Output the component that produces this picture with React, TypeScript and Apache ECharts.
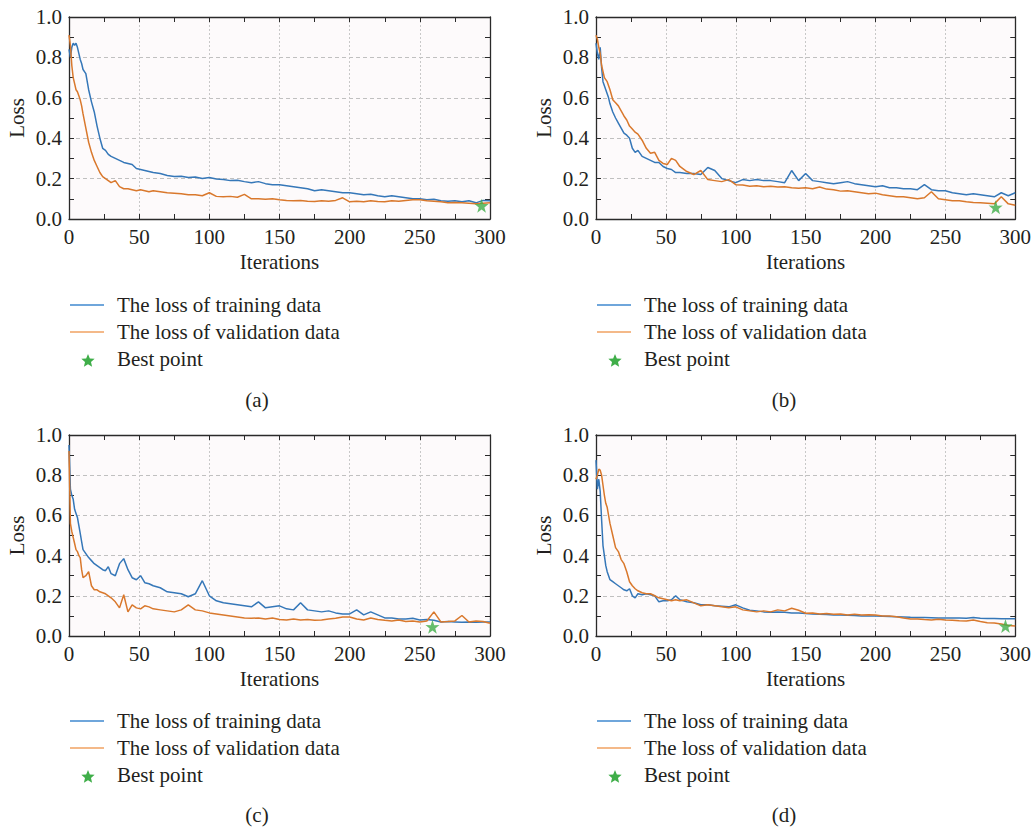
import React, { useEffect, useRef } from "react";
import * as echarts from "echarts";

const ITER = [
  0, 1, 2, 3, 4, 5, 6, 7, 8, 9, 10,
  12, 14, 16, 18, 20, 22, 24, 26, 28, 30,
  33, 36, 39, 42, 45, 48, 51, 54, 57, 60,
  65, 70, 75, 80, 85, 90, 95, 100,
  105, 110, 115, 120, 125, 130, 135, 140, 145, 150,
  155, 160, 165, 170, 175, 180, 185, 190, 195, 200,
  205, 210, 215, 220, 225, 230, 235, 240, 245, 250,
  255, 260, 265, 270, 275, 280, 285, 290, 295, 300,
];

const TRAIN_A = [
  0.84, 0.80, 0.85, 0.87, 0.86, 0.87, 0.85, 0.82, 0.79, 0.77, 0.74,
  0.72, 0.64, 0.58, 0.53, 0.46, 0.40, 0.35, 0.34, 0.32, 0.31,
  0.30, 0.29, 0.28, 0.275, 0.27, 0.25, 0.245, 0.24, 0.235, 0.23,
  0.225, 0.215, 0.21, 0.212, 0.205, 0.208, 0.20, 0.205,
  0.198, 0.195, 0.19, 0.192, 0.185, 0.18, 0.185, 0.175, 0.17, 0.17,
  0.165, 0.16, 0.155, 0.15, 0.14, 0.145, 0.14, 0.135, 0.13, 0.13,
  0.125, 0.12, 0.122, 0.115, 0.11, 0.115, 0.11, 0.105, 0.10, 0.10,
  0.095, 0.098, 0.09, 0.088, 0.09, 0.085, 0.09, 0.08, 0.092, 0.09,
];
const VAL_A = [
  0.91, 0.86, 0.76, 0.70, 0.67, 0.64, 0.63, 0.61, 0.59, 0.56, 0.52,
  0.45, 0.38, 0.33, 0.29, 0.26, 0.23, 0.21, 0.20, 0.19, 0.18,
  0.19, 0.16, 0.15, 0.15, 0.145, 0.14, 0.145, 0.14, 0.135, 0.14,
  0.135, 0.13, 0.128, 0.125, 0.12, 0.12, 0.115, 0.13,
  0.112, 0.11, 0.112, 0.108, 0.122, 0.10, 0.10, 0.098, 0.10, 0.095,
  0.092, 0.09, 0.092, 0.088, 0.087, 0.09, 0.088, 0.092, 0.105, 0.085,
  0.088, 0.085, 0.09, 0.087, 0.085, 0.09, 0.088, 0.092, 0.095, 0.095,
  0.09, 0.088, 0.085, 0.08, 0.082, 0.08, 0.078, 0.075, 0.078, 0.08,
];
const TRAIN_B = [
  0.87, 0.82, 0.79, 0.85, 0.75, 0.68, 0.66, 0.64, 0.62, 0.60, 0.57,
  0.53, 0.50, 0.475, 0.45, 0.425, 0.415, 0.40, 0.35, 0.33, 0.34,
  0.31, 0.30, 0.29, 0.28, 0.28, 0.26, 0.25, 0.245, 0.23, 0.23,
  0.225, 0.225, 0.22, 0.255, 0.24, 0.20, 0.19, 0.18,
  0.195, 0.19, 0.195, 0.19, 0.19, 0.185, 0.18, 0.24, 0.19, 0.225,
  0.19, 0.185, 0.18, 0.175, 0.18, 0.185, 0.175, 0.17, 0.165, 0.16,
  0.165, 0.155, 0.155, 0.15, 0.15, 0.145, 0.17, 0.145, 0.14, 0.14,
  0.13, 0.125, 0.12, 0.125, 0.12, 0.115, 0.11, 0.13, 0.115, 0.13,
];
const VAL_B = [
  0.91, 0.89, 0.85, 0.82, 0.76, 0.73, 0.70, 0.69, 0.68, 0.66, 0.64,
  0.59, 0.575, 0.56, 0.535, 0.51, 0.49, 0.46, 0.445, 0.43, 0.42,
  0.39, 0.35, 0.325, 0.33, 0.29, 0.275, 0.27, 0.30, 0.29, 0.26,
  0.235, 0.22, 0.24, 0.195, 0.19, 0.185, 0.195, 0.17,
  0.168, 0.162, 0.165, 0.16, 0.162, 0.158, 0.16, 0.155, 0.152, 0.155,
  0.15, 0.158, 0.148, 0.145, 0.138, 0.14, 0.135, 0.13, 0.125, 0.128,
  0.12, 0.115, 0.11, 0.11, 0.105, 0.10, 0.105, 0.135, 0.10, 0.095,
  0.09, 0.09, 0.085, 0.082, 0.08, 0.078, 0.075, 0.11, 0.075, 0.068,
];
const TRAIN_C = [
  0.95, 0.73, 0.70, 0.68, 0.63, 0.61, 0.59, 0.55, 0.51, 0.47, 0.43,
  0.41, 0.39, 0.375, 0.36, 0.35, 0.34, 0.33, 0.325, 0.345, 0.31,
  0.30, 0.36, 0.385, 0.33, 0.29, 0.28, 0.30, 0.265, 0.26, 0.25,
  0.24, 0.22, 0.215, 0.21, 0.195, 0.21, 0.275, 0.20,
  0.175, 0.165, 0.16, 0.155, 0.15, 0.145, 0.17, 0.14, 0.145, 0.15,
  0.135, 0.13, 0.165, 0.13, 0.125, 0.12, 0.125, 0.115, 0.11, 0.11,
  0.13, 0.105, 0.12, 0.105, 0.09, 0.09, 0.085, 0.085, 0.088, 0.08,
  0.082, 0.078, 0.07, 0.072, 0.07, 0.068, 0.07, 0.068, 0.07, 0.07,
];
const VAL_C = [
  0.92, 0.56, 0.52, 0.49, 0.46, 0.43, 0.42, 0.40, 0.39, 0.33, 0.29,
  0.30, 0.32, 0.25, 0.23, 0.23, 0.22, 0.215, 0.21, 0.20, 0.19,
  0.17, 0.14, 0.205, 0.12, 0.155, 0.14, 0.135, 0.15, 0.145, 0.135,
  0.13, 0.125, 0.12, 0.13, 0.155, 0.13, 0.125, 0.115,
  0.11, 0.105, 0.10, 0.095, 0.09, 0.088, 0.09, 0.085, 0.09, 0.082,
  0.08, 0.085, 0.08, 0.082, 0.078, 0.08, 0.085, 0.088, 0.095, 0.095,
  0.085, 0.08, 0.09, 0.082, 0.078, 0.075, 0.08, 0.072, 0.075, 0.07,
  0.075, 0.12, 0.07, 0.072, 0.075, 0.102, 0.07, 0.075, 0.072, 0.063,
];
const TRAIN_D = [
  0.875, 0.73, 0.78, 0.72, 0.58, 0.45, 0.40, 0.35, 0.32, 0.30, 0.28,
  0.27, 0.26, 0.25, 0.24, 0.23, 0.225, 0.235, 0.20, 0.19, 0.21,
  0.205, 0.21, 0.205, 0.20, 0.17, 0.175, 0.175, 0.18, 0.20, 0.18,
  0.17, 0.165, 0.155, 0.155, 0.15, 0.148, 0.145, 0.155,
  0.14, 0.128, 0.125, 0.12, 0.118, 0.12, 0.118, 0.115, 0.115, 0.112,
  0.11, 0.108, 0.107, 0.105, 0.104, 0.103, 0.102, 0.10, 0.10, 0.099,
  0.098, 0.097, 0.096, 0.095, 0.093, 0.092, 0.092, 0.091, 0.09, 0.09,
  0.089, 0.089, 0.088, 0.092, 0.088, 0.087, 0.087, 0.086, 0.086, 0.086,
];
const VAL_D = [
  0.78, 0.80, 0.83, 0.825, 0.80, 0.75, 0.70, 0.66, 0.64, 0.60, 0.56,
  0.50, 0.44, 0.42, 0.38, 0.36, 0.32, 0.27, 0.25, 0.235, 0.225,
  0.215, 0.21, 0.21, 0.20, 0.19, 0.185, 0.18, 0.175, 0.18, 0.175,
  0.18, 0.165, 0.15, 0.155, 0.15, 0.145, 0.14, 0.145,
  0.13, 0.125, 0.12, 0.125, 0.12, 0.13, 0.125, 0.138, 0.128, 0.113,
  0.115, 0.11, 0.112, 0.108, 0.11, 0.105, 0.108, 0.105, 0.106, 0.104,
  0.10, 0.10, 0.096, 0.09, 0.085, 0.085, 0.082, 0.08, 0.083, 0.08,
  0.078, 0.076, 0.075, 0.08, 0.072, 0.066, 0.065, 0.06, 0.052, 0.05,
];

// Best points [iteration, loss]
const BEST_A = [294, 0.066];
const BEST_B = [286, 0.058];
const BEST_C = [259, 0.046];
const BEST_D = [293, 0.05];

const PANEL_LABELS = ["(a)", "(b)", "(c)", "(d)"];
const LEGEND_LABELS = ["The loss of training data", "The loss of validation data", "Best point"];
const X_NAME = "Iterations";
const Y_NAME = "Loss";
const X_MIN = 0, X_MAX = 300, X_STEP = 50;
const Y_MIN = 0, Y_MAX = 1, Y_STEP = 0.2;

const PANELS = [
  { train: TRAIN_A, val: VAL_A, best: BEST_A },
  { train: TRAIN_B, val: VAL_B, best: BEST_B },
  { train: TRAIN_C, val: VAL_C, best: BEST_C },
  { train: TRAIN_D, val: VAL_D, best: BEST_D },
];

const FONT = '"Liberation Serif", "Times New Roman", serif';
const FS = 21;
const TEXT = "#231f20";
const AXIS = "#2a2a2a";
const BLUE = "#3577b8";
const ORANGE = "#d9782c";
const LEG_BLUE = "#3f88cf";
const LEG_ORANGE = "#f0a262";
const GREEN = "#3fae49";
const BG = "#fdfafb";

const GRIDS = [
  { left: 69, top: 17, width: 421, height: 202 },
  { left: 596, top: 17, width: 421, height: 202 },
  { left: 69, top: 435, width: 421, height: 201 },
  { left: 596, top: 435, width: 421, height: 201 },
];
const LEGEND_ROWS = [[305, 332, 359], [305, 332, 359], [721, 748, 775], [721, 748, 775]];
const CAPTION_Y = [400, 400, 815, 815];

const STAR_PATH =
  "path://M50,0 L61.8,35.1 L97.6,34.5 L69.1,56.7 L79.4,90.5 L50,70 L20.6,90.5 L30.9,56.7 L2.4,34.5 L38.2,35.1 Z";

function starPoints(cx: number, cy: number, R: number) {
  const pts: number[][] = [];
  const r = R * 0.45;
  for (let k = 0; k < 10; k++) {
    const ang = -Math.PI / 2 + (k * Math.PI) / 5;
    const rad = k % 2 === 0 ? R : r;
    pts.push([cx + rad * Math.cos(ang), cy + rad * Math.sin(ang)]);
  }
  return pts;
}

function buildOption() {
  const grid: any[] = [];
  const xAxis: any[] = [];
  const yAxis: any[] = [];
  const series: any[] = [];
  const graphic: any[] = [];

  const tickCommon = {
    axisTick: { show: true, inside: true, length: 5, lineStyle: { color: AXIS, width: 1 } },
    minorTick: { show: true, splitNumber: 2, length: 5, lineStyle: { color: AXIS, width: 1 } },
    axisLine: { show: true, onZero: false, lineStyle: { color: AXIS, width: 1.3 } },
  };
  const labelStyle = { fontFamily: FONT, fontSize: FS, color: TEXT };

  GRIDS.forEach((g, i) => {
    grid.push({ ...g, show: true, backgroundColor: BG, borderWidth: 0 });
    const xBase = { type: "value", gridIndex: i, min: X_MIN, max: X_MAX, interval: X_STEP };
    const yBase = { type: "value", gridIndex: i, min: Y_MIN, max: Y_MAX, interval: Y_STEP };
    xAxis.push({
      ...xBase,
      position: "bottom",
      ...tickCommon,
      name: X_NAME,
      nameLocation: "middle",
      nameGap: 32,
      nameTextStyle: labelStyle,
      axisLabel: { show: true, margin: 7, ...labelStyle },
      splitLine: { show: true, lineStyle: { color: "#c8c8c8", type: [2, 2], width: 1 } },
    });
    xAxis.push({
      ...xBase,
      position: "top",
      ...tickCommon,
      axisLabel: { show: false },
      splitLine: { show: false },
    });
    yAxis.push({
      ...yBase,
      position: "left",
      ...tickCommon,
      name: Y_NAME,
      nameLocation: "middle",
      nameGap: 42,
      nameTextStyle: labelStyle,
      axisLabel: { show: true, margin: 7, ...labelStyle, formatter: (v: number) => v.toFixed(1) },
      splitLine: { show: true, lineStyle: { color: "#c0c0c0", type: [4, 3], width: 1 } },
    });
    yAxis.push({
      ...yBase,
      position: "right",
      ...tickCommon,
      axisLabel: { show: false },
      splitLine: { show: false },
    });

    const p = PANELS[i];
    series.push({
      type: "line",
      name: LEGEND_LABELS[0],
      xAxisIndex: 2 * i,
      yAxisIndex: 2 * i,
      data: ITER.map((x, k) => [x, p.train[k]]),
      showSymbol: false,
      symbol: "none",
      lineStyle: { color: BLUE, width: 1.5 },
      z: 2,
    });
    series.push({
      type: "line",
      name: LEGEND_LABELS[1],
      xAxisIndex: 2 * i,
      yAxisIndex: 2 * i,
      data: ITER.map((x, k) => [x, p.val[k]]),
      showSymbol: false,
      symbol: "none",
      lineStyle: { color: ORANGE, width: 1.5 },
      z: 3,
    });
    series.push({
      type: "scatter",
      name: LEGEND_LABELS[2],
      xAxisIndex: 2 * i,
      yAxisIndex: 2 * i,
      data: [p.best],
      symbol: STAR_PATH,
      symbolSize: 14,
      itemStyle: { color: GREEN },
      z: 4,
    });

    // legend (drawn as graphics)
    const lx = g.left + 1;
    const rows = LEGEND_ROWS[i];
    graphic.push({
      type: "line",
      shape: { x1: lx, y1: rows[0], x2: lx + 34, y2: rows[0] },
      style: { stroke: LEG_BLUE, lineWidth: 1.5 },
    });
    graphic.push({
      type: "line",
      shape: { x1: lx, y1: rows[1], x2: lx + 34, y2: rows[1] },
      style: { stroke: LEG_ORANGE, lineWidth: 1.5 },
    });
    graphic.push({
      type: "polygon",
      shape: { points: starPoints(lx + 18, rows[2] + 2, 7) },
      style: { fill: GREEN },
    });
    LEGEND_LABELS.forEach((t, k) => {
      graphic.push({
        type: "text",
        x: lx + 47,
        y: rows[k],
        style: {
          text: t,
          fontFamily: FONT,
          fontSize: FS,
          fill: TEXT,
          align: "left",
          verticalAlign: "middle",
        },
      });
    });
    graphic.push({
      type: "text",
      x: g.left + 188,
      y: CAPTION_Y[i],
      style: {
        text: PANEL_LABELS[i],
        fontFamily: FONT,
        fontSize: FS,
        fill: TEXT,
        align: "center",
        verticalAlign: "middle",
      },
    });
  });

  return {
    animation: false,
    backgroundColor: "#ffffff",
    grid,
    xAxis,
    yAxis,
    series,
    graphic,
  };
}

export default function App() {
  const ref = useRef<HTMLDivElement>(null);
  useEffect(() => {
    document.body.style.margin = "0";
    if (!ref.current) return;
    const chart = echarts.init(ref.current, undefined, { renderer: "svg" });
    chart.setOption(buildOption() as any);
    return () => {
      chart.dispose();
    };
  }, []);
  return <div ref={ref} style={{ width: 1034, height: 829 }} />;
}
